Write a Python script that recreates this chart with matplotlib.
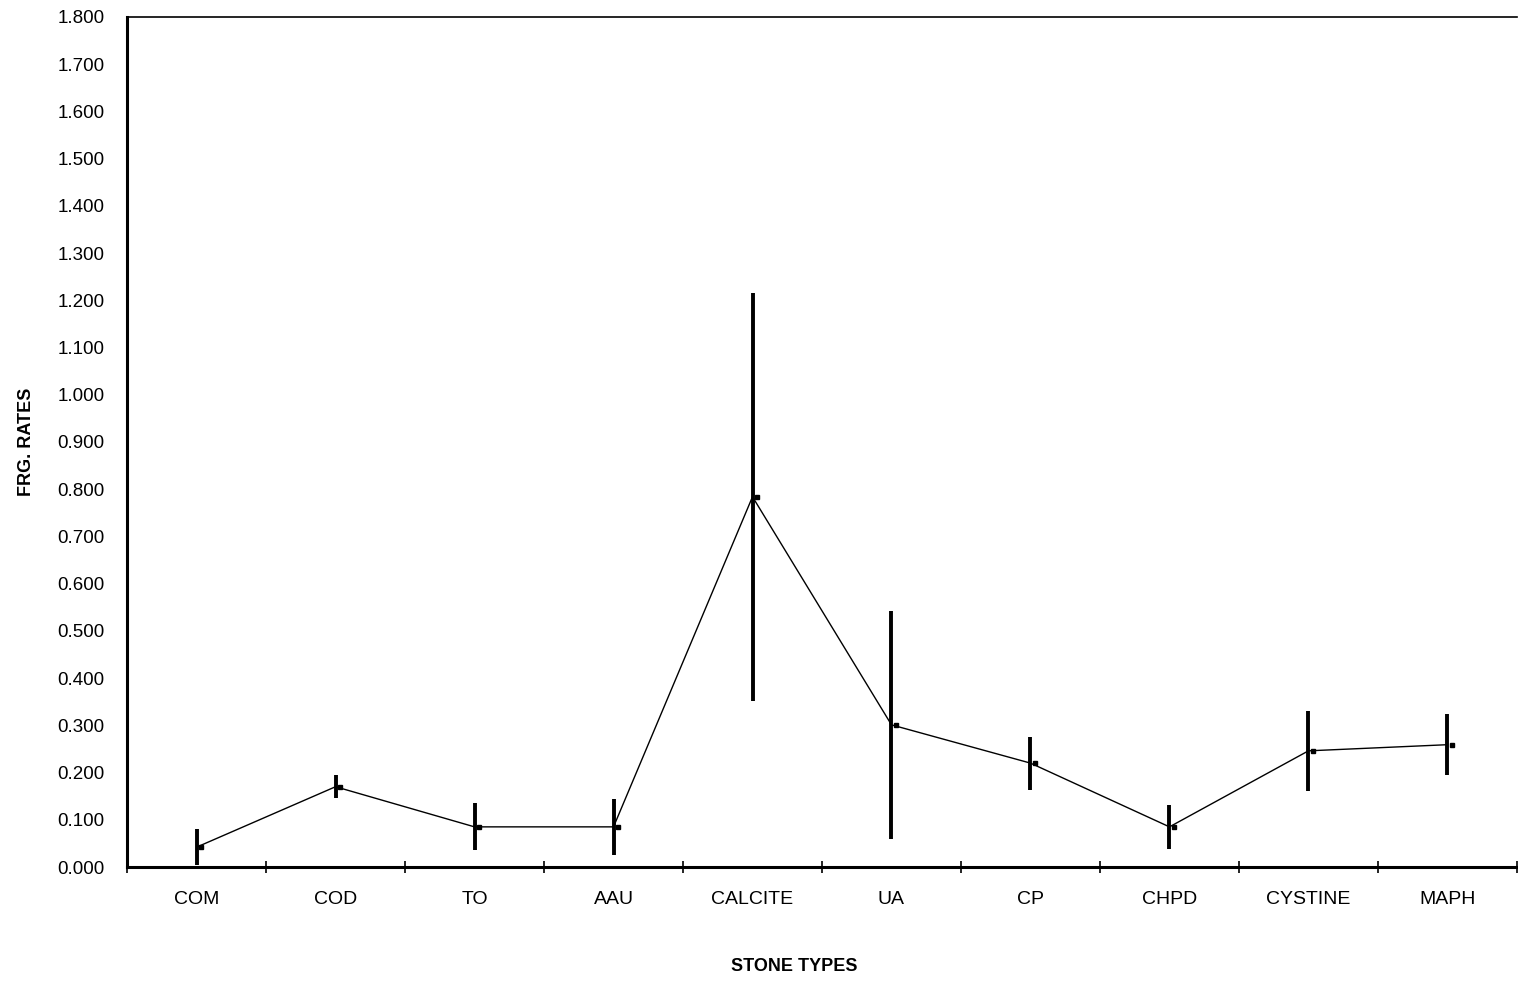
import matplotlib.pyplot as plt
import numpy as np

# stone types and mean fragmentation rates with error ranges
stones = ["COM", "COD", "TO", "AAU", "CALCITE", "UA", "CP", "CHPD", "CYSTINE", "MAPH"]
rates = [0.042, 0.170, 0.085, 0.085, 0.784, 0.301, 0.220, 0.085, 0.246, 0.259]
errors = [0.038, 0.024, 0.050, 0.060, 0.432, 0.242, 0.056, 0.047, 0.085, 0.065]
y_ticks = np.arange(0, 1.81, 0.1)

plt.rcParams['font.family'] = ['Liberation Sans', 'DejaVu Sans']

fig = plt.figure(figsize=(15.18, 9.81), dpi=100)
ax = fig.add_axes([0.0837, 0.1162, 0.9156, 0.8665])

x = np.arange(len(stones))

# connecting line, then the error bars on top
ax.plot(x, rates, color="black", linewidth=1.0)
ax.errorbar(x, rates, yerr=errors, fmt="none", ecolor="black",
            elinewidth=2.8, capsize=0)
ax.plot(x + 0.03, rates, linestyle="none", marker="s", markersize=3.5,
        color="black")

ax.set_xlim(-0.5, len(stones) - 0.5)
ax.set_ylim(0, 1.8)

ax.set_xticks(x)
ax.set_xticklabels(stones, fontsize=14)
ax.tick_params(axis="x", which="major", length=0, pad=17)
ax.set_xticks(np.arange(-0.5, len(stones), 1), minor=True)
ax.tick_params(axis="x", which="minor", direction="inout", length=9, width=1.2)

ax.set_yticks(y_ticks)
ax.set_yticklabels([f"{v:.3f}" for v in y_ticks], fontsize=13.5)
ax.tick_params(axis="y", length=0, pad=16)

ax.spines["right"].set_visible(False)
ax.spines["left"].set_linewidth(2.2)
ax.spines["bottom"].set_linewidth(2.2)
ax.spines["top"].set_linewidth(1.2)

ax.set_xlabel("STONE TYPES", fontsize=13, fontweight="bold", labelpad=36)
ax.xaxis.label.set_x(0.48)
ax.set_ylabel("FRG. RATES", fontsize=13, fontweight="bold", labelpad=16)
ax.yaxis.label.set_y(0.50)

fig.savefig("out.png", dpi=100)
